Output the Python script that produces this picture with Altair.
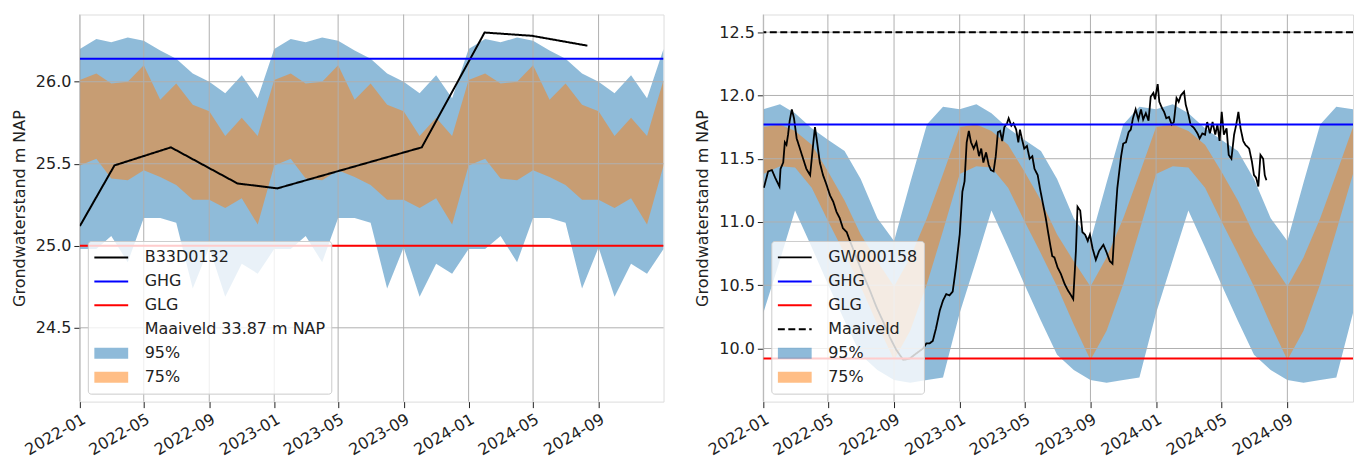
import altair as alt
import pandas as pd

# ---------------- data ----------------
X_START = "2022-01-01T00:00:00"
X_END = "2025-01-01T00:00:00"
BAND_MONTHS = [d.strftime("%Y-%m-%dT00:00:00") for d in pd.date_range("2022-01-01", "2025-01-01", freq="MS")]
TICK_MONTHS = ["2022-01", "2022-05", "2022-09", "2023-01", "2023-05", "2023-09", "2024-01", "2024-05", "2024-09"]

# Left panel (B33D0132) - monthly band values Jan..Dec (same each year)
left_series = ["B33D0132", "GHG", "GLG", "Maaiveld 33.87 m NAP", "95%", "75%"]
left_u95 = [26.20, 26.26, 26.24, 26.27, 26.25, 26.19, 26.14, 26.05, 26.00, 25.93, 26.04, 25.90]
left_u75 = [26.01, 26.05, 25.99, 26.00, 26.10, 25.89, 25.99, 25.86, 25.82, 25.67, 25.78, 25.67]
left_l75 = [25.49, 25.53, 25.41, 25.40, 25.46, 25.42, 25.37, 25.28, 25.28, 25.23, 25.29, 25.13]
left_l95 = [24.98, 24.98, 25.06, 24.90, 25.17, 25.17, 25.14, 24.74, 24.99, 24.69, 24.89, 24.83]
left_obs_dates = ["2022-01-01", "2022-03-07", "2022-06-21", "2022-10-24", "2023-01-07",
                  "2023-10-05", "2024-01-31", "2024-04-29", "2024-08-11"]
left_obs_vals = [25.12, 25.49, 25.60, 25.38, 25.35, 25.60, 26.30, 26.28, 26.22]
left_ghg = 26.14
left_glg = 25.00
left_maaiveld = 33.87
left_ydomain = [24.05, 26.41]
left_yticks = [24.5, 25.0, 25.5, 26.0]

# Right panel (GW000158)
right_series = ["GW000158", "GHG", "GLG", "Maaiveld", "95%", "75%"]
right_u95 = [11.89, 11.93, 11.86, 11.74, 11.65, 11.56, 11.34, 11.03, 10.85, 11.31, 11.77, 11.91]
right_u75 = [11.75, 11.77, 11.72, 11.61, 11.40, 11.17, 10.90, 10.69, 10.49, 10.72, 11.03, 11.38]
right_l75 = [11.38, 11.44, 11.43, 11.27, 11.01, 10.75, 10.49, 10.19, 9.91, 10.14, 10.51, 10.93]
right_l95 = [10.28, 10.70, 11.09, 10.80, 10.51, 10.22, 9.95, 9.83, 9.75, 9.73, 9.75, 9.77]
# observed series: days since 2022-01-01 and level (m NAP)
right_obs_days = [1, 9, 16, 22, 30, 32, 37, 40, 43, 46, 49, 53, 57, 62, 68, 74, 80, 87, 90, 93,
                  96, 100, 105, 111, 117, 124, 130, 136, 142, 148, 155, 161, 173, 185, 198, 210, 223, 235, 247, 260,
                  272, 284, 297, 303, 309, 315, 321, 328, 334, 340, 346, 352, 358, 365, 370, 374, 378, 382, 386, 391,
                  396, 401, 405, 409, 414, 419, 423, 428, 432, 436, 440, 444, 448, 453, 456, 461, 465, 470, 474, 477,
                  481, 485, 490, 495, 500, 504, 510, 514, 519, 525, 532, 537, 541, 547, 553, 560, 566, 572, 576, 581,
                  584, 589, 593, 598, 603, 607, 612, 618, 624, 632, 638, 644, 649, 654, 658, 665, 669, 674, 679, 683,
                  687, 692, 697, 702, 706, 711, 716, 720, 725, 728, 733, 736, 741, 745, 749, 754, 759, 763, 768, 772,
                  776, 782, 785, 790, 794, 801, 807, 811, 816, 821, 825, 830, 835, 840, 844, 848, 852, 856, 861, 865,
                  870, 875, 879, 883, 887, 892, 896, 903, 908, 912, 916, 920, 924, 929, 932, 935]
right_obs_vals = [11.27, 11.40, 11.41, 11.35, 11.28, 11.42, 11.47, 11.63, 11.61, 11.69, 11.80, 11.89, 11.82, 11.66, 11.58, 11.50, 11.42, 11.37, 11.50, 11.63,
                  11.75, 11.63, 11.47, 11.37, 11.30, 11.21, 11.16, 11.08, 11.03, 10.95, 10.92, 10.85, 10.72, 10.59, 10.46, 10.33, 10.21, 10.09, 9.99, 9.91,
                  9.92, 9.96, 10.00, 10.04, 10.04, 10.06, 10.16, 10.30, 10.38, 10.43, 10.42, 10.45, 10.64, 10.90, 11.24, 11.32, 11.63, 11.72, 11.63, 11.58,
                  11.63, 11.52, 11.58, 11.47, 11.55, 11.45, 11.41, 11.40, 11.52, 11.71, 11.72, 11.64, 11.75, 11.78, 11.82, 11.76, 11.78, 11.73, 11.63, 11.73,
                  11.65, 11.58, 11.60, 11.50, 11.52, 11.42, 11.37, 11.27, 11.16, 11.03, 10.85, 10.73, 10.72, 10.64, 10.59, 10.51, 10.46, 10.42, 10.39, 10.77,
                  11.12, 11.09, 10.92, 10.90, 10.85, 10.90, 10.79, 10.70, 10.77, 10.82, 10.76, 10.69, 10.67, 11.03, 11.27, 11.52, 11.62, 11.63, 11.71, 11.73,
                  11.82, 11.89, 11.81, 11.89, 11.81, 11.86, 11.80, 11.99, 12.02, 11.97, 12.09, 11.95, 11.90, 11.87, 11.82, 11.83, 11.77, 11.79, 11.98, 11.95,
                  12.00, 12.03, 11.93, 11.85, 11.77, 11.74, 11.70, 11.66, 11.70, 11.69, 11.79, 11.70, 11.79, 11.69, 11.77, 11.64, 11.87, 11.69, 11.74, 11.53,
                  11.50, 11.69, 11.77, 11.87, 11.74, 11.64, 11.61, 11.58, 11.48, 11.37, 11.35, 11.28, 11.53, 11.50, 11.37, 11.33]
right_ghg = 11.77
right_glg = 9.92
right_maaiveld = 12.50
right_ydomain = [9.58, 12.64]
right_yticks = [10.0, 10.5, 11.0, 11.5, 12.0, 12.5]

FONT = "DejaVu Sans"
TAB_BLUE = "#1f77b4"
TAB_ORANGE = "#ff7f0e"
GRID = "#b0b0b0"


def band_frame(u95, l95, u75, l75):
    n_years = 3
    rows = []
    for band, hi, lo in (("95%", u95, l95), ("75%", u75, l75)):
        his = hi * n_years + hi[:1]
        los = lo * n_years + lo[:1]
        for d, h, l in zip(BAND_MONTHS, his, los):
            rows.append({"date": d, "series": band, "hi": h, "lo": l})
    return pd.DataFrame(rows)


def panel(series, colors, widths, opac, dashes, bands, obs, rules, ydomain, yticks, width, height):
    xaxis = alt.Axis(
        values=[alt.DateTime(year=int(t[:4]), month=int(t[5:]), date=1) for t in TICK_MONTHS],
        format="%Y-%m", labelAngle=-30, labelAlign="right", labelBaseline="top",
        labelFontSize=16, labelFont=FONT, labelColor="#222", labelPadding=3, labelOverlap=False,
        labelFlush=False, tickColor="#222", tickSize=6, grid=False, domain=False, title=None,
    )
    yaxis = alt.Axis(
        values=yticks, format=".1f", labelFontSize=16, labelFont=FONT, labelColor="#222",
        labelPadding=3, tickColor="#222", tickSize=6, grid=False, domain=False,
        title="Grondwaterstand m NAP", titleFontSize=16, titleFont=FONT,
        titleFontWeight="normal", titleColor="#222", titlePadding=8,
    )
    xs = alt.Scale(domain=[X_START, X_END])
    ys = alt.Scale(domain=ydomain, nice=False, zero=False)
    leg = alt.Legend(
        orient="bottom-left", offset=8, title=None, symbolType="stroke", symbolSize=1150,
        symbolOffset=-5, labelOffset=11, clipHeight=21, rowPadding=3, padding=6,
        labelFontSize=16, labelFont=FONT, labelColor="#222", labelLimit=400,
        fillColor="rgba(255,255,255,0.8)", strokeColor="#cccccc", cornerRadius=3,
    )
    enc_lines = dict(
        color=alt.Color("series:N", scale=alt.Scale(domain=series, range=colors), legend=leg),
        opacity=alt.Opacity("series:O", sort=series,
                            scale=alt.Scale(type="ordinal", domain=series, range=opac), legend=leg),
        strokeWidth=alt.StrokeWidth("series:O", sort=series,
                                    scale=alt.Scale(type="ordinal", domain=series, range=widths), legend=leg),
        strokeDash=alt.StrokeDash("series:N", scale=alt.Scale(domain=series, range=dashes), legend=leg),
    )
    area95 = alt.Chart(bands).transform_filter(alt.datum.series == "95%").mark_area(
        color=TAB_BLUE, opacity=0.5, clip=True
    ).encode(
        x=alt.X("date:T", scale=xs, axis=xaxis),
        y=alt.Y("hi:Q", scale=ys, axis=yaxis),
        y2="lo:Q",
    )
    area75 = alt.Chart(bands).transform_filter(alt.datum.series == "75%").mark_area(
        color=TAB_ORANGE, opacity=0.5, clip=True
    ).encode(
        x=alt.X("date:T", scale=xs, axis=xaxis),
        y=alt.Y("hi:Q", scale=ys, axis=yaxis),
        y2="lo:Q",
    )
    # grid lines at the tick positions, drawn above the bands and below the lines (matplotlib order)
    xgrid = alt.Chart(pd.DataFrame({"date": [t + "-01T00:00:00" for t in TICK_MONTHS]})).mark_rule(
        color=GRID, strokeWidth=1
    ).encode(x=alt.X("date:T", scale=xs, axis=xaxis))
    ygrid = alt.Chart(pd.DataFrame({"value": yticks})).mark_rule(
        color=GRID, strokeWidth=1
    ).encode(y=alt.Y("value:Q", scale=ys, axis=yaxis))
    line = alt.Chart(obs).mark_line(clip=True).encode(
        x=alt.X("date:T", scale=xs, axis=xaxis),
        y=alt.Y("value:Q", scale=ys, axis=yaxis),
        **enc_lines,
    )
    rule = alt.Chart(rules).mark_rule(clip=True).encode(
        y=alt.Y("value:Q", scale=ys, axis=yaxis),
        **enc_lines,
    )
    return alt.layer(area95, area75, xgrid, ygrid, line, rule).properties(width=width, height=height)


# Left panel data
left_bands = band_frame(left_u95, left_l95, left_u75, left_l75)
left_obs = pd.DataFrame({"date": [d + "T00:00:00" for d in left_obs_dates], "value": left_obs_vals,
                         "series": left_series[0]})
left_rules = pd.DataFrame({"series": ["GHG", "GLG"], "value": [left_ghg, left_glg]})

# Right panel data
start = pd.Timestamp("2022-01-01")
right_obs = pd.DataFrame({
    "date": [(start + pd.Timedelta(days=d)).strftime("%Y-%m-%dT00:00:00") for d in right_obs_days],
    "value": right_obs_vals, "series": right_series[0]})
right_bands = band_frame(right_u95, right_l95, right_u75, right_l75)
right_rules = pd.DataFrame({"series": ["GHG", "GLG", "Maaiveld"],
                            "value": [right_ghg, right_glg, right_maaiveld]})

left = panel(
    left_series, ["black", "blue", "red", "black", TAB_BLUE, TAB_ORANGE],
    [2, 2, 2, 2, 11, 11], [1, 1, 1, 0, 0.5, 0.5],
    [[1, 0], [1, 0], [1, 0], [1, 0], [1, 0], [1, 0]],
    left_bands, left_obs, left_rules, left_ydomain, left_yticks, 585, 388,
)
right = panel(
    right_series, ["black", "blue", "red", "black", TAB_BLUE, TAB_ORANGE],
    [1.8, 2, 2, 2, 11, 11], [1, 1, 1, 1, 0.5, 0.5],
    [[1, 0], [1, 0], [1, 0], [7, 3.5], [1, 0], [1, 0]],
    right_bands, right_obs, right_rules, right_ydomain, right_yticks, 591, 388,
)

chart = alt.hconcat(left, right, spacing=29).resolve_scale(
    color="independent", opacity="independent", strokeWidth="independent",
    strokeDash="independent", x="independent", y="independent",
).resolve_legend(
    color="independent", opacity="independent", strokeWidth="independent", strokeDash="independent",
).configure_view(stroke="#222", strokeWidth=1.2).configure(
    font=FONT, background="white", padding={"left": 2, "top": 5, "right": 0, "bottom": 0}
)

chart.save("out.html", embed_options={"renderer": "svg", "actions": False})
